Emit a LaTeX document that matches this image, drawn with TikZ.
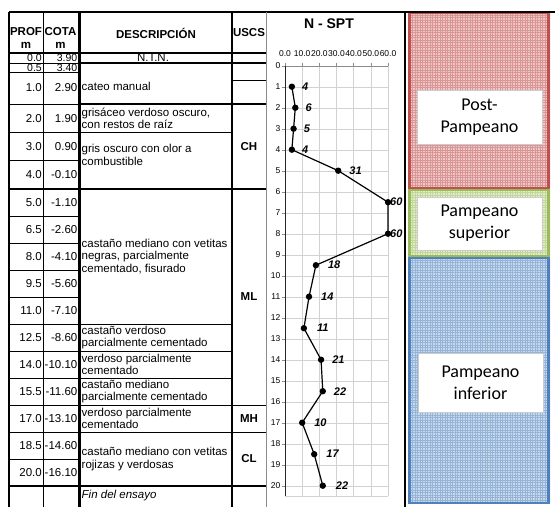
\documentclass[tikz,border=0pt]{standalone}
\usepackage{fontspec}
\setmainfont{Liberation Sans}
\newfontfamily\calibrifont{Carlito}
\definecolor{rojopp}{RGB}{192,80,77}
\definecolor{verdepp}{RGB}{155,187,89}
\definecolor{azulpp}{RGB}{79,129,189}
\definecolor{grilla}{RGB}{210,210,210}
\definecolor{marco}{RGB}{140,140,140}
\begin{document}
\begin{tikzpicture}[x=1pt,y=-1pt,
    every node/.style={inner sep=0pt,font=\fontsize{11.5}{12.5}\selectfont},
    hdr/.style={font=\fontsize{11.5}{12.5}\selectfont\bfseries},
    celda/.style={anchor=west,align=left},
    numero/.style={anchor=east},
    chica/.style={anchor=east,font=\fontsize{10.5}{11}\selectfont},
    eje/.style={font=\fontsize{8.5}{9}\selectfont},
    valor/.style={anchor=west,font=\fontsize{11}{12}\selectfont\bfseries\itshape},
    zona/.style={fill=white,draw=black!20,minimum width=125pt,align=center,
        font=\calibrifont\fontsize{18}{22}\selectfont},
    fina/.style={line width=.6pt},
    gruesa/.style={line width=1.6pt}]
    \useasboundingbox (0,0) rectangle (555,507);
    \foreach \cc/\ya/\yb in {rojopp/13/188,verdepp/190/256,azulpp/258/503} {
        \fill[\cc!30] (408,\ya) rectangle (550,\yb);
        \begin{scope}
            \clip (408,\ya) rectangle (550,\yb);
            \draw[\cc!60,line width=.3pt,step=2.5pt] (408,\ya) grid (550,\yb);
        \end{scope}
        \draw[\cc,line width=2.5pt] (409.5,\ya) rectangle (548.5,\yb);
    }
    \node[zona,minimum height=54pt] (post) at (479.5,117) {Post-\\Pampeano};
    \node[zona,minimum height=53pt] (superior) at (479.5,223.5) {Pampeano\\superior};
    \node[zona,minimum height=59pt] (inferior) at (480.5,382.5) {Pampeano\\inferior};
    \foreach \k in {0,...,20}
        \draw[grilla] (285,{65.7+21*\k}) -- (388,{65.7+21*\k});
    \foreach \k in {1,...,6}
        \draw[grilla] ({285+17.17*\k},65.7) -- ({285+17.17*\k},496);
    \draw[grilla] (285,496) -- (388,496);
    \draw[marco] (285,65.7) -- (388,65.7);
    \draw[black!85,line width=.8pt] (285,65.7) -- (285,496);
    \foreach \k in {0,...,20} {
        \draw[marco] (282,{65.7+21*\k}) -- (285,{65.7+21*\k});
        \node[eje,anchor=east] (prof\k) at (280.5,{65.7+21*\k}) {\k};
    }
    \foreach \t [count=\k from 0] in {0.0,10.0,20.0,30.0,40.0,50.0,60.0} {
        \draw[marco] ({285+17.17*\k},62.7) -- ({285+17.17*\k},65.7);
        \node[eje] (nspt\k) at ({285+17.17*\k},54) {\t};
    }
    \node[font=\fontsize{14}{16}\selectfont\bfseries] (titulo) at (329,24) {N - SPT};
    \foreach \n/\d/\o [count=\i] in {4/1/10,6/2/10,5/3/10,4/4/10,31/5/11,60/6.5/2,
        60/8/2,18/9.5/12,14/11/12,11/12.5/13,21/14/11,22/15.5/11,10/17/12,17/18.5/12,22/20/13} {
        \coordinate (p\i) at ({285+1.717*\n},{65.7+21*\d});
        \node[valor] (v\i) at ({285+1.717*\n+\o},{65.7+21*\d}) {\n};
    }
    \draw[line width=1.2pt] (p1) \foreach \i in {2,...,15} {-- (p\i)};
    \foreach \i in {1,...,15}
        \fill (p\i) circle (3.2pt);
    \draw[gruesa] (9,12) -- (555,12);
    \draw[line width=2pt] (9,12) -- (9,507);
    \draw[fina] (43,12) -- (43,507);
    \draw[line width=3pt] (79,12) -- (79,507);
    \draw[gruesa] (232,12) -- (232,507);
    \draw[marco,line width=.6pt] (266,12) -- (266,507);
    \draw[line width=2.5pt] (405,12) -- (405,507);
    \draw[gruesa] (9,53) -- (266,53);
    \foreach \yy in {63,72,104,132.3,160.7,216,243,270,297,324,351,378,405,432,459}
        \draw[fina] (9,\yy) -- (79,\yy);
    \foreach \yy in {189,486}
        \draw[gruesa] (9,\yy) -- (266,\yy);
    \foreach \yy in {63,104}
        \draw[gruesa] (79,\yy) -- (266,\yy);
    \foreach \yy in {132.3,324,351,378}
        \draw[fina] (79,\yy) -- (232,\yy);
    \foreach \yy in {405,432}
        \draw[fina] (79,\yy) -- (266,\yy);
    \draw[fina] (232,80) -- (266,80);
    \node[hdr] (hprof) at (26,32) {PROF};
    \node[hdr] (hprofm) at (26,45.5) {m};
    \node[hdr] (hcota) at (60.5,32) {COTA};
    \node[hdr] (hcotam) at (60.5,45.5) {m};
    \node[hdr] (hdesc) at (156,33) {DESCRIPCIÓN};
    \node[hdr] (huscs) at (249,33) {USCS};
    \node[chica] (pr1) at (42,58.2) {0.0};
    \node[chica] (co1) at (77.5,58.2) {3.90};
    \node[chica] (pr2) at (42,67.7) {0.5};
    \node[chica] (co2) at (77.5,67.7) {3.40};
    \foreach \p/\c/\yy [count=\i from 3] in {1.0/2.90/88,2.0/1.90/118.2,
        3.0/0.90/146.5,4.0/-0.10/174.8,5.0/-1.10/202.5,6.5/-2.60/229.5,8.0/-4.10/256.5,
        9.5/-5.60/283.5,11.0/-7.10/310.5,12.5/-8.60/337.5,14.0/-10.10/364.5,
        15.5/-11.60/391.5,17.0/-13.10/418.5,18.5/-14.60/445.5,20.0/-16.10/472.5} {
        \node[numero] (pr\i) at (42,\yy) {\p};
        \node[numero] (co\i) at (77.5,\yy) {\c};
    }
    \node (ntn) at (153,58) {N.T.N.};
    \node[celda] (d1) at (81.5,86) {cateo manual};
    \node[celda] (d2) at (81.5,118.5) {grisáceo verdoso oscuro,\\con restos de raíz};
    \node[celda] (d3) at (81.5,155) {gris oscuro con olor a\\combustible};
    \node[celda] (d4) at (81.5,256.5) {castaño mediano con vetitas\\negras, parcialmente\\cementado, fisurado};
    \node[celda] (d5) at (81.5,337.5) {castaño verdoso\\parcialmente cementado};
    \node[celda] (d6) at (81.5,364.5) {verdoso parcialmente\\cementado};
    \node[celda] (d7) at (81.5,391.5) {castaño mediano\\parcialmente cementado};
    \node[celda] (d8) at (81.5,418.5) {verdoso parcialmente\\cementado};
    \node[celda] (d9) at (81.5,459) {castaño mediano con vetitas\\rojizas y verdosas};
    \node[celda,font=\fontsize{11.5}{12.5}\selectfont\itshape] (fin) at (81.5,496) {Fin del ensayo};
    \node[hdr] (ch) at (249,146.5) {CH};
    \node[hdr] (ml) at (249,297) {ML};
    \node[hdr] (mh) at (249,418.5) {MH};
    \node[hdr] (cl) at (249,459) {CL};
\end{tikzpicture}
\end{document}
